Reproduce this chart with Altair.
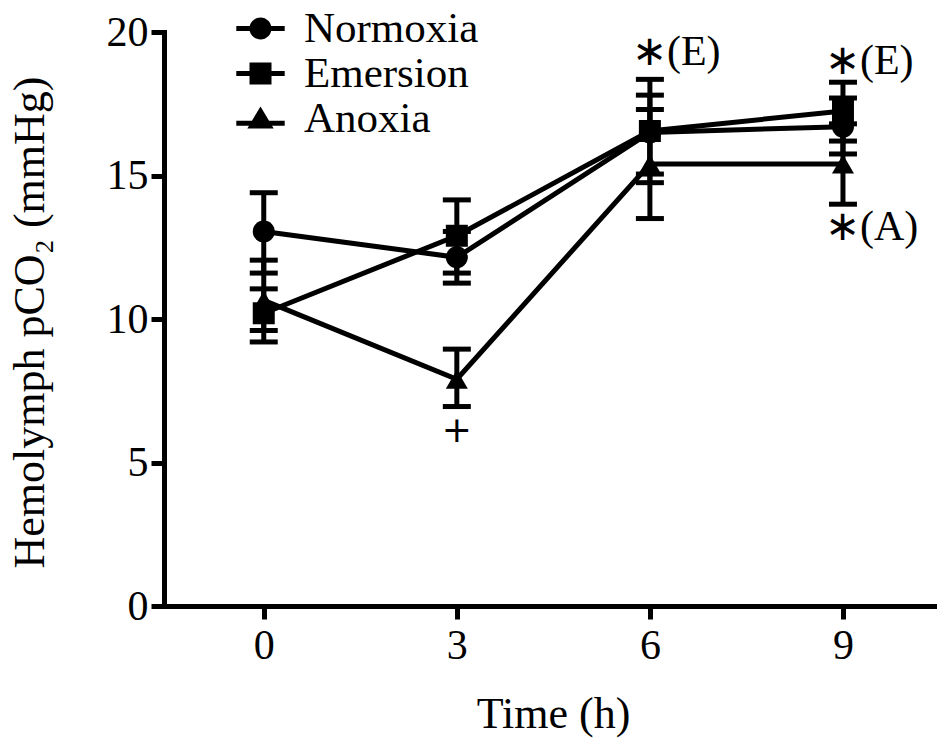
import altair as alt
import pandas as pd

# ---- data ----
times = [0, 3, 6, 9]
series_names = ["Normoxia", "Emersion", "Anoxia"]

normoxia_mean = [13.05, 12.15, 16.5, 16.7]
normoxia_lo = [11.6, 11.25, 15.05, 15.75]
normoxia_hi = [14.4, 13.05, 17.8, 17.7]

emersion_mean = [10.2, 12.9, 16.55, 17.25]
emersion_lo = [9.2, 11.6, 14.75, 16.2]
emersion_hi = [11.05, 14.15, 18.35, 18.25]

anoxia_mean = [10.65, 7.9, 15.4, 15.4]
anoxia_lo = [9.6, 6.95, 13.5, 14.0]
anoxia_hi = [12.05, 8.95, 17.3, 16.8]

ann_text = ["∗(E)", "∗(E)", "∗(A)", "+"]
ann_time = [6, 9, 9, 3]
ann_value = [19.3, 19.0, 13.2, 6.1]

x_ticks = [0, 3, 6, 9]
y_ticks = [0, 5, 10, 15, 20]

# ---- build table ----
rows = []
for name, m, lo, hi in [
    ("Normoxia", normoxia_mean, normoxia_lo, normoxia_hi),
    ("Emersion", emersion_mean, emersion_lo, emersion_hi),
    ("Anoxia", anoxia_mean, anoxia_lo, anoxia_hi),
]:
    for t, a, b, c in zip(times, m, lo, hi):
        rows.append({"series": name, "time": t, "mean": a, "lo": b, "hi": c})
df = pd.DataFrame(rows)
ann = pd.DataFrame({"label": ann_text, "time": ann_time, "value": ann_value})

FONT = "Liberation Serif"

xscale = alt.Scale(domain=[-1.55, 10.43], nice=False, zero=False)
yscale = alt.Scale(domain=[0, 20], nice=False, zero=True)

xaxis = alt.Axis(values=x_ticks, title="Time (h)", labelPadding=6,
                 titleX=389, titleY=121, titleAlign="center",
                 titleBaseline="alphabetic")
yaxis = alt.Axis(values=y_ticks, title="Hemolymph pCO₂ (mmHg)", labelPadding=3,
                 titleX=-134, titleY=290, titleAngle=-90, titleAlign="center",
                 titleBaseline="middle")

X = lambda f: alt.X(f, type="quantitative", scale=xscale, axis=xaxis)
Y = lambda f: alt.Y(f, type="quantitative", scale=yscale, axis=yaxis)

base = alt.Chart(df)

lines = base.mark_line(color="black", strokeWidth=5).encode(
    x=X("time"), y=Y("mean"), detail="series:N", order="time:Q"
)
bars = base.mark_rule(color="black", strokeWidth=5).encode(
    x=X("time"), y=Y("lo"), y2="hi"
)
cap_lo = base.mark_tick(color="black", orient="horizontal", size=28,
                        thickness=5, opacity=1).encode(x=X("time"), y=Y("lo"))
cap_hi = base.mark_tick(color="black", orient="horizontal", size=28,
                        thickness=5, opacity=1).encode(x=X("time"), y=Y("hi"))
points = base.mark_point(filled=True, color="black", opacity=1, size=484).encode(
    x=X("time"), y=Y("mean"),
    shape=alt.Shape("series:N",
                    scale=alt.Scale(domain=series_names,
                                    range=["circle", "square", "triangle-up"]),
                    legend=None),
)

# legend glyphs: marker with a horizontal bar through it (filled shapes only)
legend_paths = [
    "M-2.2,-0.23L2.2,-0.23L2.2,0.23L-2.2,0.23Z"
    "M-1,0A1,1,0,1,1,1,0A1,1,0,1,1,-1,0Z",
    "M-2.2,-0.23L2.2,-0.23L2.2,0.23L-2.2,0.23Z"
    "M-1,-1L1,-1L1,1L-1,1Z",
    "M-2.2,0.2L2.2,0.2L2.2,0.66L-2.2,0.66Z"
    "M0,-1.1L1.2,0.9L-1.2,0.9Z",
]
legend_layer = base.mark_point(filled=True, color="black", opacity=0, size=484).encode(
    x=X("time"), y=Y("mean"),
    shape=alt.Shape("series:N",
                    scale=alt.Scale(domain=series_names, range=legend_paths),
                    legend=alt.Legend(orient="none", legendX=75, legendY=-25,
                                      title=None, labelFont=FONT,
                                      labelFontSize=43, labelColor="black",
                                      labelLimit=0,
                                      symbolOpacity=1, symbolFillColor="black",
                                      symbolStrokeColor="black",
                                      symbolStrokeWidth=0, symbolSize=484,
                                      labelOffset=22, rowPadding=1, padding=0)),
)

annot_star = alt.Chart(ann).transform_filter("datum.label != '+'").mark_text(
    font=FONT, fontSize=42, color="black", align="left", baseline="middle", dx=-18
).encode(x=X("time"), y=Y("value"), text="label:N")
annot_plus = alt.Chart(ann).transform_filter("datum.label == '+'").mark_text(
    font="DejaVu Sans", fontSize=36, color="black", align="center", baseline="middle"
).encode(x=X("time"), y=Y("value"), text="label:N")

chart = alt.layer(lines, bars, cap_lo, cap_hi, points, legend_layer,
                  annot_star, annot_plus).resolve_scale(
    shape="independent"
).properties(
    width=771, height=574,
    padding={"left": 164, "top": 32, "right": 2, "bottom": 134},
    autosize=alt.AutoSizeParams(type="none"),
    background="white",
).configure(font=FONT).configure_view(stroke=None).configure_axis(
    grid=False, domainColor="black", domainWidth=5, domainCap="square",
    tickColor="black", tickWidth=5, tickSize=13,
    labelFont=FONT, labelFontSize=42, labelColor="black",
    titleFont=FONT, titleFontSize=44, titleFontWeight="normal", titleColor="black",
).configure_legend(labelFont=FONT, labelFontSize=43, labelColor="black")

chart.save("out.html", embed_options={"renderer": "svg", "actions": False})
